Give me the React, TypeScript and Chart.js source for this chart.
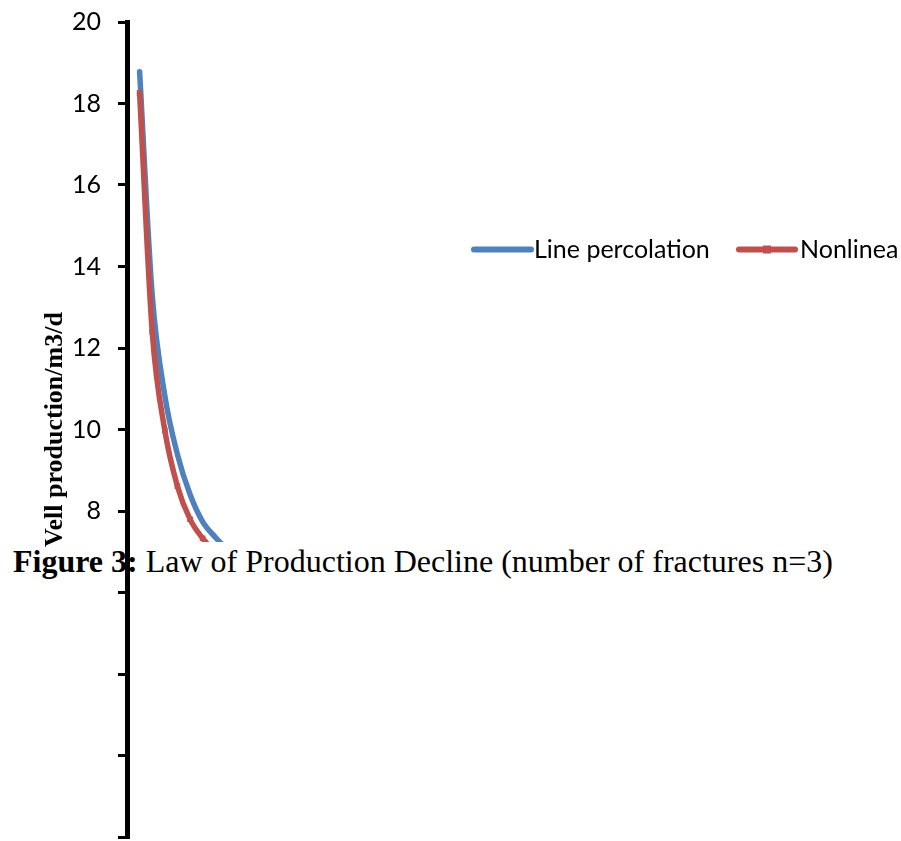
import React, { useEffect, useRef } from 'react';
import { Chart, registerables } from 'chart.js';

Chart.register(...registerables);

// ---- data ----
const days = [1, 2, 3, 4, 5, 6, 7, 8, 9, 10, 11, 12];
const linePercolation = [18.78, 13.3, 10.83, 9.39, 8.41, 7.74, 7.36, 7.05, 6.8, 6.6, 6.45, 6.3];
const nonlinearPercolation = [18.26, 12.4, 9.98, 8.61, 7.8, 7.33, 7.0, 6.75, 6.55, 6.4, 6.25, 6.1];
const seriesLabels = ['Line percolation', 'Nonlinea'];
const yMin = 0;
const yMax = 20;
const yStep = 2;
const labelledTickMin = 8; // labels below this are hidden under the caption in the reference
const yAxisTitle = 'Vell production/m3/d';
const captionBold = 'Figure 3:';
const captionRest = ' Law of Production Decline (number of fractures n=3)';

const BLUE = '#4F81BD';
const RED = '#C0504D';
const TICK_FONT = 'Lato';
const FONT_SIZE = 25;
const CLIP_BOTTOM_PX = 542;

const clipPlugin = {
  id: 'clipBottom',
  beforeDatasetsDraw(chart: any) {
    const ctx = chart.ctx;
    ctx.save();
    ctx.beginPath();
    ctx.rect(0, 0, chart.width, CLIP_BOTTOM_PX);
    ctx.clip();
  },
  afterDatasetsDraw(chart: any) {
    chart.ctx.restore();
  },
};

const legendPlugin = {
  id: 'sideLegend',
  afterDraw(chart: any) {
    const ctx = chart.ctx;
    const ds = chart.data.datasets;
    const items = [
      { x0: 474, x1: 531, tx: 534 },
      { x0: 739, x1: 795, tx: 800 },
    ];
    const y = 249.5;
    ctx.save();
    items.forEach((it, i) => {
      const d = ds[i];
      ctx.strokeStyle = d.borderColor;
      ctx.lineWidth = 6;
      ctx.lineCap = 'round';
      ctx.beginPath();
      ctx.moveTo(it.x0, y);
      ctx.lineTo(it.x1, y);
      ctx.stroke();
      if (d.pointRadius > 0) {
        ctx.fillStyle = d.borderColor;
        const r = d.pointRadius;
        const cx = (it.x0 + it.x1) / 2;
        ctx.fillRect(cx - r, y - r, 2 * r, 2 * r);
      }
      ctx.fillStyle = '#000';
      ctx.font = `${FONT_SIZE}px ${TICK_FONT}`;
      ctx.textAlign = 'left';
      ctx.textBaseline = 'middle';
      ctx.fillText(d.label, it.tx, y);
    });
    ctx.restore();
  },
};

export default function App() {
  const ref = useRef<HTMLCanvasElement>(null);

  useEffect(() => {
    const canvas = ref.current;
    if (!canvas) return;
    const chart = new Chart(canvas, {
      type: 'line',
      data: {
        datasets: [
          {
            label: seriesLabels[0],
            data: days.map((d, i) => ({ x: d, y: linePercolation[i] })),
            borderColor: BLUE,
            backgroundColor: BLUE,
            borderWidth: 5.5,
            pointRadius: 0,
            cubicInterpolationMode: 'monotone',
            borderCapStyle: 'round',
            order: 1,
          },
          {
            label: seriesLabels[1],
            data: days.map((d, i) => ({ x: d, y: nonlinearPercolation[i] })),
            borderColor: RED,
            backgroundColor: RED,
            borderWidth: 5.5,
            pointRadius: 4,
            pointStyle: 'rect',
            pointBorderWidth: 0,
            cubicInterpolationMode: 'monotone',
            order: 0,
          },
        ],
      },
      options: {
        responsive: false,
        animation: false,
        events: [],
        layout: { padding: { left: 0, top: 22, right: 18, bottom: 1 } },
        plugins: {
          legend: { display: false },
          tooltip: { enabled: false },
        },
        scales: {
          x: {
            type: 'linear',
            min: 0,
            max: 60,
            display: false,
          },
          y: {
            min: yMin,
            max: yMax,
            afterFit(scale: any) {
              scale.width = 127;
              scale.paddingTop = 0;
              scale.paddingBottom = 0;
            },
            ticks: {
              stepSize: yStep,
              padding: 17,
              color: '#000',
              font: { family: TICK_FONT, size: FONT_SIZE },
              callback: (v: any) => (Number(v) >= labelledTickMin ? String(v) : ''),
            },
            grid: {
              drawOnChartArea: false,
              drawTicks: true,
              tickLength: 9,
              lineWidth: 3,
              color: '#000',
            },
            border: { display: true, color: '#000', width: 5 },
            title: {
              display: true,
              text: yAxisTitle,
              color: '#000',
              font: { family: 'Liberation Serif', size: 26, weight: 'bold' },
              padding: { top: 40, bottom: 0 },
            },
          },
        },
      },
      plugins: [clipPlugin, legendPlugin],
    } as any);
    return () => chart.destroy();
  }, []);

  return (
    <div
      style={{
        position: 'fixed',
        left: 0,
        top: 0,
        width: 901,
        height: 841,
        overflow: 'hidden',
        background: '#fff',
      }}
    >
      <div
        style={{
          position: 'absolute',
          left: 13,
          top: 545,
          fontFamily: '"Liberation Serif", "Times New Roman", serif',
          fontSize: 32,
          lineHeight: '32px',
          whiteSpace: 'nowrap',
          color: '#000',
          zIndex: 0,
        }}
      >
        <b>{captionBold}</b>
        {captionRest}
      </div>
      <canvas
        ref={ref}
        width={901}
        height={841}
        style={{ position: 'absolute', left: 0, top: 0, zIndex: 1 }}
      />
    </div>
  );
}
